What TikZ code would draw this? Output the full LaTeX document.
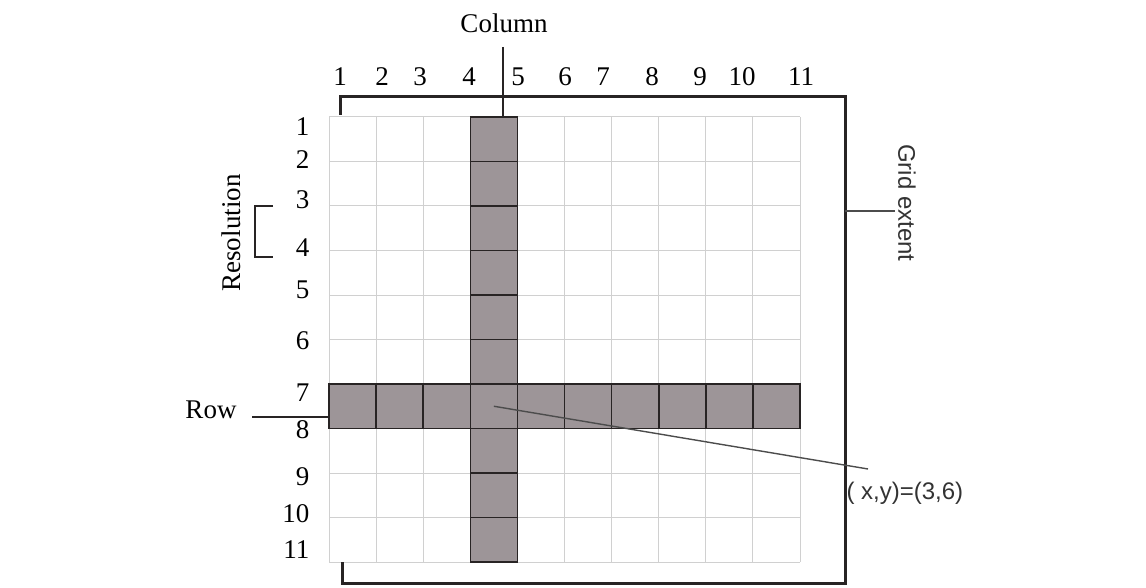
\documentclass[tikz,border=0pt]{standalone}
\usepackage{fontspec}
\setmainfont{Liberation Serif}
\newfontfamily\sanslbl{Liberation Sans}
\usetikzlibrary{positioning}
\definecolor{cellgray}{RGB}{157,149,152}
\definecolor{gridgray}{RGB}{208,208,208}
\definecolor{inkdark}{RGB}{40,36,36}

\begin{document}
\begin{tikzpicture}[
  x=1pt, y=-1pt,
  font=\fontsize{27}{29}\selectfont,
  gridline/.style={draw=gridgray, line width=1pt},
  cell/.style={draw=inkdark, fill=cellgray, line width=1.6pt, minimum width=47.1pt,
               minimum height=44.5pt, inner sep=0pt},
  frame/.style={draw=inkdark, line width=3pt},
  lead/.style={draw=inkdark, line width=1.8pt},
  thinlead/.style={draw=black!70, line width=1.4pt},
  sanstext/.style={font=\sanslbl\fontsize{24}{26}\selectfont, text=black!80},
]
  \useasboundingbox (0,0) rectangle (1146,588);

  % Grid
  \foreach \i in {0,...,10} {
    \draw[gridline] ({329+47.1*\i},117) -- ({329+47.1*\i},562);
    \draw[gridline] (329,{117+44.5*\i}) -- (800,{117+44.5*\i});
  }

  % Column and row of cells
  \foreach \j in {1,...,10}
    \node[cell] (col-\j) at ({329+47.1*3.5},{117+44.5*(\j-0.5)}) {};
  \foreach \i in {1,...,10}
    \node[cell] (row-\i) at ({329+47.1*(\i-0.5)},{117+44.5*6.5}) {};

  % Extent frame
  \draw[frame] (340,115) -- (340,97) -- (845,97) -- (845,583) -- (342,583) -- (342,562);

  % Numbers
  \foreach \n/\x in {1/340,2/382,3/420,4/469,5/518,6/565,7/603,8/652,9/700,10/742,11/801}
    \node (cn-\n) at (\x,77) {\n};
  \foreach \n/\y in {1/127,2/160,3/200,4/248,5/290,6/341,7/393,8/430,9/477,10/514,11/550}
    \node[anchor=east] (rn-\n) at (313,\y) {\n};

  % Column
  \node (column) at (504,23) {Column};
  \coordinate (coltop) at (503,47);
  \coordinate (colfoot) at (503,117);
  \draw[lead] (coltop) -- (colfoot);

  % Row
  \node (rowlbl) at (211,410) {Row};
  \coordinate (rowtip) at (330,417);
  \draw[lead] (rowlbl.east |- rowtip) ++(12,0) -- (rowtip);

  % Resolution
  \node[rotate=90] (resol) at (231,233) {Resolution};
  \coordinate (brtop) at (273,206);
  \coordinate (brbot) at (273,257);
  \draw[lead] (brtop) -- ++(-18,0) |- (brbot);

  % Grid extent
  \node[sanstext, rotate=-90] (extent) at (907,203) {Grid extent};
  \coordinate (extfoot) at (845,211);
  \draw[thinlead] (extfoot) -- (extent.south |- extfoot);

  % Coordinate pair
  \node[sanstext, anchor=west] (xylbl) at (843,493) {( x,y)=(3,6)};
  \coordinate (xytip) at (868,469);
  \draw[thinlead] (row-4.center) -- (xytip);
\end{tikzpicture}
\end{document}
